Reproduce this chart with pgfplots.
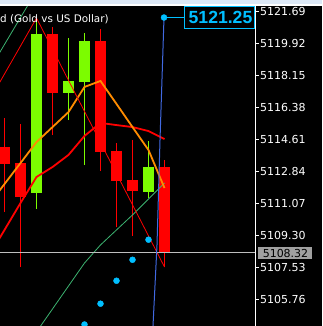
\documentclass[border=0pt]{standalone}
\usepackage{pgfplots}
\pgfplotsset{compat=1.18}
\usepackage{fontspec}
\setmainfont{DejaVu Sans}
\newfontfamily\lib{Liberation Sans}
\definecolor{cgreen}{RGB}{124,252,0}
\definecolor{cred}{RGB}{255,0,0}
\definecolor{corange}{RGB}{255,140,0}
\definecolor{ccyan}{RGB}{0,191,255}
\definecolor{cblue}{RGB}{65,105,225}
\definecolor{cseagreen}{RGB}{60,179,113}
\definecolor{topstrip}{RGB}{220,232,246}
\definecolor{bidline}{RGB}{190,190,190}
\definecolor{bidbox}{RGB}{160,160,160}
\begin{document}
\begin{tikzpicture}[x=1pt,y=1pt]
\path[use as bounding box] (0,0) rectangle (322,326);
\fill[black] (0,0) rectangle (322,326);
\begin{axis}[
  at={(0,0)}, anchor=south west,
  scale only axis, width=255pt, height=320pt,
  xmin=-0.28125, xmax=15.65625,
  ymin=5104.267, ymax=5121.967,
  axis x line=none,
  axis y line*=right,
  axis line style={white, line width=1pt},
  ytick={5105.76,5107.53,5109.30,5111.07,5112.84,5114.61,5116.38,5118.15,5119.92,5121.69},
  yticklabels={5105.76,5107.53,5109.30,5111.07,5112.84,5114.61,5116.38,5118.15,5119.92,5121.69},
  tick style={white, line width=0.8pt},
  major tick length=4pt,
  tick align=outside,
  yticklabel style={text=white, font=\fontsize{11}{13}\selectfont, anchor=west, inner sep=0pt, xshift=1pt},
  unbounded coords=jump,
  clip=true,
]
% red wicks
\addplot[cred, line width=1pt] coordinates {
 (0,5110.57) (0,5115.77) (0,nan)
 (1,5107.53) (1,5115.44) (1,nan)
 (3,5114.83) (3,5120.81) (3,nan)
 (6,5112.84) (6,5120.69) (6,nan)
 (7,5109.74) (7,5114.39) (7,nan)
 (8,5109.25) (8,5114.56) (8,nan)
 (10,5107.53) (10,5113.45)};
% red bodies
\addplot[cred, line width=11pt] coordinates {
 (0,5114.17) (0,5113.23) (0,nan)
 (1,5113.28) (1,5111.40) (1,nan)
 (3,5120.42) (3,5117.16) (3,nan)
 (6,5120.03) (6,5113.89) (6,nan)
 (7,5113.95) (7,5112.29) (7,nan)
 (8,5112.34) (8,5111.73) (8,nan)
 (10,5113.06) (10,5108.32)};
% green wicks
\addplot[cgreen, line width=1pt] coordinates {
 (2,5110.74) (2,5121.30) (2,nan)
 (4,5115.66) (4,5120.20) (4,nan)
 (5,5113.17) (5,5120.47) (5,nan)
 (9,5111.35) (9,5114.50)};
% green bodies
\addplot[cgreen, line width=11pt] coordinates {
 (2,5111.62) (2,5120.42) (2,nan)
 (4,5117.16) (4,5117.82) (4,nan)
 (5,5117.76) (5,5120.03) (5,nan)
 (9,5111.68) (9,5113.06)};
% thin sea-green lines
\addplot[cseagreen, line width=0.8pt] coordinates {(-1,5118.36) (0,5119.84) (1,5121.33) (2,5122.80)};
\addplot[cseagreen, line width=0.8pt] coordinates {(2,5103.94) (3,5105.21) (4,5106.48) (5,5107.75) (6,5108.75) (7,5109.58) (8,5110.41) (9,5111.29) (10,5112.18)};
% red moving average
\addplot[cred, line width=1.8pt] coordinates {(-1,5108.1) (0,5109.58) (1,5111.07) (2,5112.51) (3,5113.06) (4,5113.73) (5,5114.78) (6,5115.50) (7,5115.38) (8,5115.27) (9,5115.05) (10,5114.61)};
% orange moving average
\addplot[corange, line width=1.8pt] coordinates {(-1,5110.96) (0,5112.12) (1,5113.28) (2,5114.44) (3,5115.27) (4,5116.10) (5,5117.49) (6,5117.82) (7,5116.55) (8,5115.27) (9,5114.00) (10,5111.90)};
% zigzag
\addplot[cred, line width=0.8pt] coordinates {(-1,5116.66) (2,5121.30) (10,5107.53)};
% bid line
\addplot[bidline, line width=1pt] coordinates {(-0.5,5108.32) (16,5108.32)};
% blue projection line
\addplot[cblue, line width=1pt] coordinates {(9.25,5103.9) (9.281,5104.27) (9.531,5108.75) (9.719,5114.56) (9.969,5121.33)};
% connector to label
\addplot[ccyan, line width=1pt] coordinates {(9.969,5121.33) (11.22,5121.33)};
% dots
\addplot[only marks, mark=*, mark size=3pt, color=ccyan] coordinates {(9,5109.04) (8,5107.93) (7,5106.77) (6,5105.50) (5,5104.35) (9.969,5121.33)};
\end{axis}
\fill[topstrip] (0,321.5) rectangle (322,326);
\fill[white] (0,320) rectangle (322,321.5);
\node[anchor=base west, text=white, font=\fontsize{10.4}{12}\selectfont, inner sep=0pt] at (0,303) {d (Gold vs US Dollar)};
\draw[ccyan, line width=1pt, fill=black] (184.5,297.5) rectangle (254.5,319.5);
\node[text=ccyan, font=\lib\bfseries\fontsize{17.6}{20}\selectfont, inner sep=0pt] at (220.5,308.5) {5121.25};
\fill[bidbox] (258,67) rectangle (312,79);
\node[text=black, font=\fontsize{11}{13}\selectfont, inner sep=0pt] at (285.5,73) {5108.32};
\end{tikzpicture}
\end{document}
